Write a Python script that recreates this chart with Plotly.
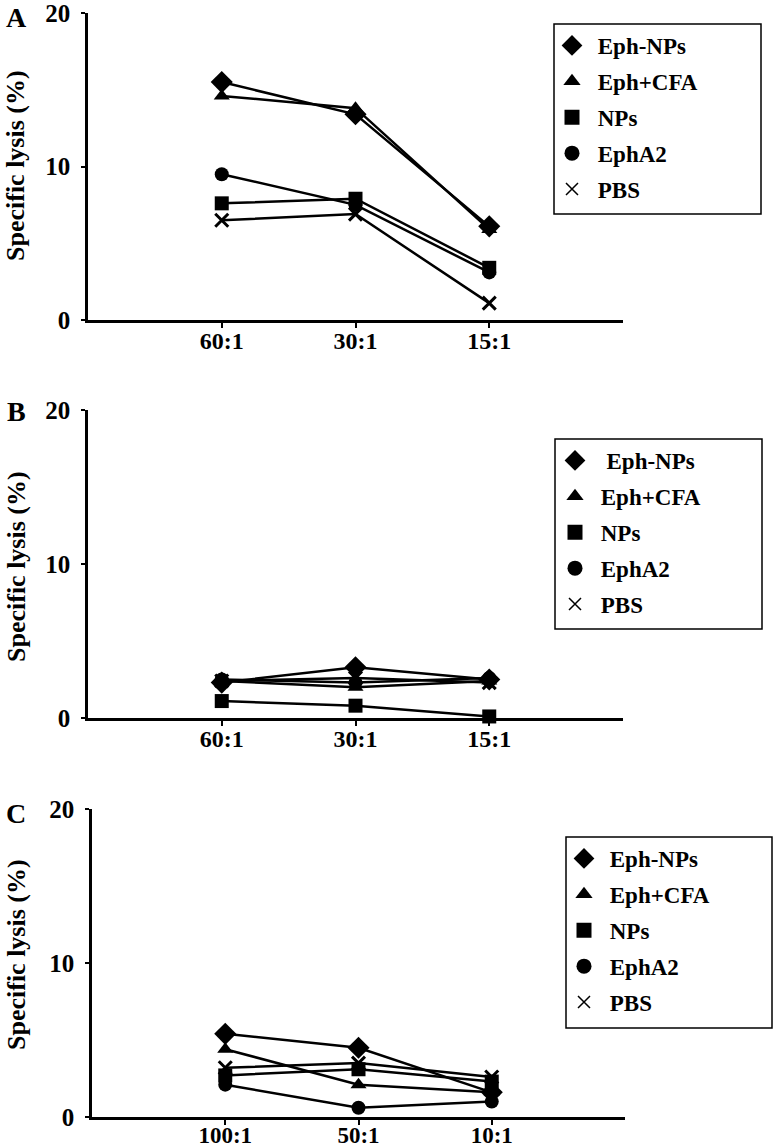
import plotly.graph_objects as go

series = ["Eph-NPs", "Eph+CFA", "NPs", "EphA2", "PBS"]
symbols = ["diamond", "triangle-up", "square", "circle", "x-thin-open"]

ratios_ab = ["60:1", "30:1", "15:1"]
ratios_c = ["100:1", "50:1", "10:1"]

panel_a = {
    "Eph-NPs": [15.5, 13.4, 6.1],
    "Eph+CFA": [14.6, 13.8, 5.9],
    "NPs": [7.6, 7.9, 3.4],
    "EphA2": [9.5, 7.5, 3.1],
    "PBS": [6.5, 6.9, 1.1],
}
panel_b = {
    "Eph-NPs": [2.3, 3.3, 2.5],
    "Eph+CFA": [2.4, 2.0, 2.4],
    "NPs": [1.1, 0.8, 0.1],
    "EphA2": [2.5, 2.3, 2.6],
    "PBS": [2.4, 2.6, 2.3],
}
panel_c = {
    "Eph-NPs": [5.4, 4.5, 1.6],
    "Eph+CFA": [4.4, 2.1, 1.6],
    "NPs": [2.7, 3.1, 2.3],
    "EphA2": [2.1, 0.6, 1.0],
    "PBS": [3.2, 3.5, 2.6],
}

W, H = 774, 1147
FONT = "Liberation Serif"
NB = "\u00a0"

# pixel boxes: (x0, x1, ytop, ybottom)
boxes = [(88, 623, 13, 320), (88, 623, 410, 718), (92, 625, 809, 1117)]
legend_boxes = [(554, 761, 24, 214), (555, 762, 439, 629), (566, 772, 837, 1028)]
legend_x = [552, 555, 564]
letters = ["A", "B", "C"]
letter_y = [18, 411, 813]
title_y = [166, 567, 955]
xtick_size = [24, 24, 23]
xtick_standoff = [-8, -8, -10]
panels = [(panel_a, ratios_ab), (panel_b, ratios_ab), (panel_c, ratios_c)]

fig = go.Figure()
layout = dict(
    width=W, height=H,
    margin=dict(l=0, r=0, t=0, b=0, autoexpand=False),
    paper_bgcolor="white", plot_bgcolor="white",
    font=dict(family=FONT, color="black"),
    showlegend=True,
)
annotations = []
shapes = []
for i, ((data, cats), box) in enumerate(zip(panels, boxes)):
    n = "" if i == 0 else str(i + 1)
    xa, ya = "x" + n, "y" + n
    leg = "legend" + n
    for s, sym in zip(series, symbols):
        is_x = sym.startswith("x")
        fig.add_trace(go.Scatter(
            x=[1, 2, 3], y=data[s], mode="lines+markers",
            xaxis=xa, yaxis=ya, showlegend=False,
            line=dict(color="black", width=2.5),
            marker=dict(symbol=sym, size=13 if is_x else (17 if sym == "diamond" else 14),
                        color="black", line=dict(color="black", width=3 if is_x else 0)),
            cliponaxis=False,
        ))
        label = NB + s
        if i == 1 and s == "Eph-NPs":
            label = NB + NB + s
        fig.add_trace(go.Scatter(
            x=[None], y=[None], mode="markers", name=label,
            xaxis=xa, yaxis=ya, legend=leg, legendgroup=f"{leg}-{s}",
            marker=dict(symbol=sym, size=12 if is_x else (16 if sym == "diamond" else 15),
                        color="black", line=dict(color="black", width=1.5 if is_x else 0)),
        ))
    x0, x1, yt, yb = box
    layout["xaxis" + n] = dict(
        domain=[x0 / W, x1 / W], range=[0, 4], anchor=ya,
        tickvals=[1, 2, 3], ticktext=cats,
        showline=True, linecolor="black", linewidth=3,
        ticks="outside", ticklen=5, tickwidth=2, tickcolor="black",
        showgrid=False, zeroline=False, automargin=False,
        ticklabeloverflow="allow", ticklabelstandoff=xtick_standoff[i],
        tickfont=dict(family=FONT, size=xtick_size[i], color="black", weight="bold"),
        fixedrange=True,
    )
    layout["yaxis" + n] = dict(
        domain=[1 - yb / H, 1 - yt / H], range=[0, 20], anchor=xa,
        tickvals=[0, 10, 20],
        showline=True, linecolor="black", linewidth=2.5,
        ticks="outside", ticklen=4, tickwidth=2, tickcolor="black",
        showgrid=False, zeroline=False, automargin=False,
        ticklabelstandoff=6, ticklabeloverflow="allow",
        tickfont=dict(family=FONT, size=25, color="black", weight="bold"),
        fixedrange=True,
    )
    lb = legend_boxes[i]
    layout[leg] = dict(
        x=legend_x[i] / W, y=1 - lb[2] / H, xanchor="left", yanchor="top",
        borderwidth=0, bgcolor="rgba(0,0,0,0)",
        font=dict(family=FONT, size=23, color="black", weight="bold"),
        itemwidth=30, tracegroupgap=3,
    )
    shapes.append(dict(
        type="rect", xref="paper", yref="paper",
        x0=lb[0] / W, x1=lb[1] / W, y0=1 - lb[3] / H, y1=1 - lb[2] / H,
        line=dict(color="black", width=1.5), layer="below",
    ))
    annotations.append(dict(
        text=letters[i], x=16 / W, y=1 - letter_y[i] / H, xref="paper", yref="paper",
        xanchor="center", yanchor="middle", showarrow=False,
        font=dict(family=FONT, size=28, color="black", weight="bold"),
    ))
    annotations.append(dict(
        text="Specific lysis (%)", x=16 / W, y=1 - title_y[i] / H,
        xref="paper", yref="paper", textangle=-90,
        xanchor="center", yanchor="middle", showarrow=False,
        font=dict(family=FONT, size=26, color="black", weight="bold"),
    ))
layout["annotations"] = annotations
layout["shapes"] = shapes
fig.update_layout(**layout)
fig.write_html(
    "out.html",
    config={"displayModeBar": False},
    post_script="document.body.style.margin='0px';document.body.style.overflow='hidden';",
)
